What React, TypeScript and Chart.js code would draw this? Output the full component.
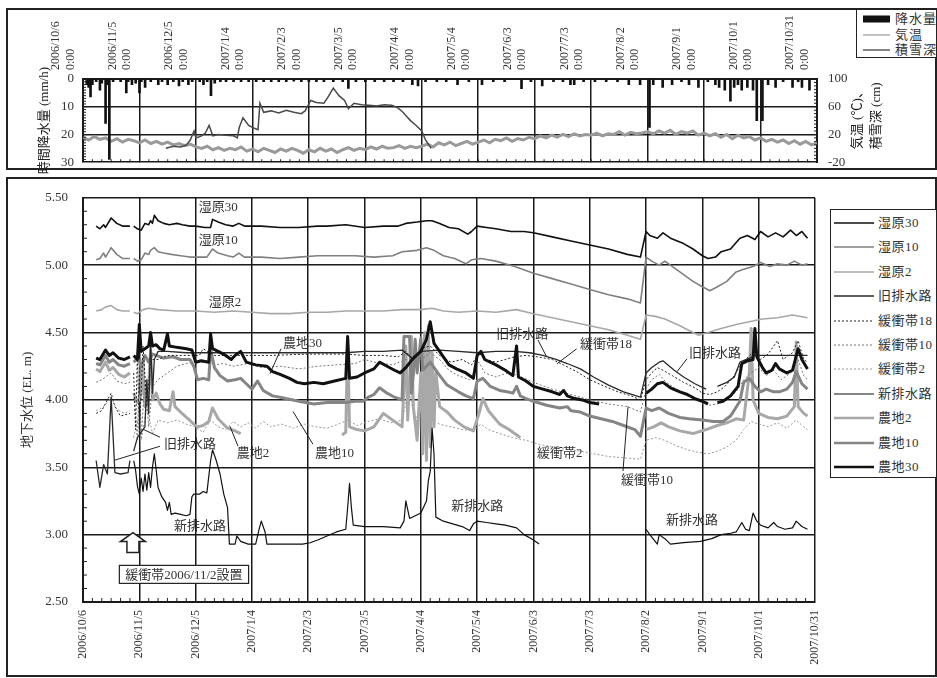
import React, { useEffect, useRef } from "react";
import { Chart, registerables } from "chart.js";
Chart.register(...registerables);

// ---------- tick labels (x = days since 2006/10/6) ----------
const dateLabels = [
  "2006/10/6", "2006/11/5", "2006/12/5", "2007/1/4", "2007/2/3", "2007/3/5", "2007/4/4",
  "2007/5/4", "2007/6/3", "2007/7/3", "2007/8/2", "2007/9/1", "2007/10/1", "2007/10/31",
];
const timeLabel = "0:00";

// ---------- top panel data ----------
// hourly precipitation peaks [day, mm/h]
const precipitation: [number, number][] = [
  [2, 2], [3, 3], [4, 6.5], [5, 2], [7, 1], [9, 4], [10, 1.5], [12, 16], [13, 2], [14, 29], [16, 1], [20, 1],
  [23, 5], [24, 1], [26, 2], [28, 1.5], [30, 5], [31, 1], [33, 3], [36, 1], [40, 2], [42, 1], [45, 2], [48, 1],
  [51, 2.5], [53, 1], [56, 2], [58, 1], [62, 1], [64, 2], [66, 1], [68, 6], [70, 1.5], [73, 1], [76, 1], [80, 1],
  [84, 1], [88, 1], [92, 1], [96, 1], [100, 1], [104, 1], [108, 1], [112, 0.8], [116, 1], [120, 1], [124, 1],
  [128, 1], [133, 1], [138, 1], [141, 3.4], [145, 1], [150, 1], [155, 1], [160, 1], [165, 1], [170, 1], [175, 2],
  [178, 2.5], [182, 1], [188, 1], [193, 1], [199, 2], [205, 1], [212, 2], [218, 1], [224, 1], [233, 3.5], [238, 1],
  [244, 2.5], [250, 1], [255, 1], [259, 2], [261, 2], [266, 1], [272, 1], [278, 1], [284, 1], [290, 2], [296, 2],
  [301, 17.5], [303, 2], [308, 3], [313, 2], [318, 1], [322, 2], [327, 3], [332, 1], [336, 2], [338, 3], [341, 4],
  [344, 8], [346, 3], [348, 2], [350, 4], [353, 3], [356, 4], [358, 15], [361, 15], [364, 2], [368, 3], [372, 1],
  [377, 3], [380, 1], [382, 3], [386, 4],
];
// air temperature (°C), one reading every 3 days from day 0
const tempStepDays = 3;
const temperature: number[] = [
  16, 12, 17, 13, 15, 10, 14, 9, 13, 11,
  8, 12, 7, 10, 6, 9, 5, 7, 4, 6,
  2, 0, 3, -2, 1, -3, 0, -2, 2, -4,
  -1, -5, 0, -3, -6, -1, -4, 0, -3, -7,
  -2, -5, 0, -4, -1, -6, -2, 1, -3, 0,
  -2, 2, -1, 3, 0, 1, 4, 0, 3, 1,
  3, 6, 2, 8, 5, 9, 4, 7, 10, 6,
  9, 12, 8, 13, 11, 15, 10, 14, 12, 16,
  14, 18, 15, 19, 16, 20, 17, 21, 18, 20,
  19, 22, 18, 21, 20, 24, 19, 23, 21, 22,
  24, 21, 25, 22, 26, 20, 24, 22, 25, 19,
  22, 18, 21, 16, 20, 14, 19, 15, 17, 12,
  15, 10, 13, 9, 12, 7, 11, 6, 10, 5,
  8,
];
// snow depth (cm) [day, cm]
const snowDepth: [number, number][] = [
  [44, 0], [48, 3], [52, 2], [55, 5], [57, 12], [59, 25], [60, 15], [63, 18], [65, 22], [67, 33], [69, 18], [72, 20],
  [76, 19], [80, 18], [82, 15], [83, 30], [85, 44], [88, 33], [91, 29], [93, 27], [94, 65], [96, 52], [100, 54],
  [104, 51], [108, 55], [112, 52], [116, 50], [118, 54], [121, 69], [124, 66], [128, 65], [130, 73], [133, 87],
  [136, 76], [139, 69], [141, 57], [144, 65], [148, 63], [152, 62], [156, 61], [160, 63], [164, 62], [167, 59],
  [170, 52], [172, 46], [174, 40], [177, 33], [180, 25], [182, 12], [184, 4], [185, 0],
];

// ---------- bottom panel data: groundwater level (EL. m), [day, value|null] ----------
type Pt = [number, number | null];
const shitsugen30: Pt[] = [
  [7, 5.29], [9, 5.27], [11, 5.30], [12, 5.28], [15, 5.35], [18, 5.31], [21, 5.29], [25, 5.29], [26, null],
  [27, 5.29], [29, 5.27], [31, 5.26], [33, 5.31], [35, 5.30], [36, 5.33], [37, 5.31], [38, 5.37], [40, 5.33],
  [43, 5.31], [46, 5.30], [50, 5.31], [53, 5.30], [57, 5.29], [60, 5.29], [65, 5.28], [68, 5.28], [69, 5.34],
  [72, 5.32], [76, 5.30], [80, 5.29], [83, 5.31], [86, 5.29], [95, 5.29], [105, 5.28], [115, 5.28], [125, 5.29],
  [130, 5.29], [140, 5.30], [150, 5.28], [160, 5.29], [168, 5.29], [172, 5.31], [178, 5.32], [183, 5.33],
  [186, 5.33], [190, 5.31], [195, 5.28], [200, 5.27], [205, 5.23], [207, 5.25], [210, 5.29], [215, 5.28],
  [220, 5.27], [228, 5.25], [235, 5.25], [240, 5.24], [250, 5.21], [260, 5.18], [270, 5.15], [280, 5.12],
  [290, 5.08], [297, 5.06], [300, 5.25], [302, 5.22], [306, 5.20], [309, 5.24], [313, 5.20], [320, 5.16],
  [325, 5.12], [330, 5.07], [333, 5.05], [337, 5.06], [340, 5.10], [345, 5.12], [350, 5.20], [354, 5.22],
  [358, 5.19], [361, 5.25], [365, 5.21], [369, 5.24], [373, 5.21], [377, 5.26], [380, 5.22], [383, 5.25], [386, 5.20],
];
const shitsugen10: Pt[] = [
  [7, 5.04], [9, 5.05], [11, 5.09], [12, 5.06], [15, 5.13], [18, 5.08], [21, 5.05], [25, 5.05], [26, null],
  [27, 5.05], [29, 5.03], [31, 5.04], [33, 5.09], [35, 5.08], [36, 5.11], [38, 5.13], [40, 5.10], [43, 5.09],
  [47, 5.08], [52, 5.07], [57, 5.06], [60, 5.06], [66, 5.06], [69, 5.12], [72, 5.09], [77, 5.07], [80, 5.06],
  [83, 5.09], [86, 5.06], [95, 5.06], [105, 5.05], [115, 5.06], [125, 5.07], [135, 5.07], [145, 5.07],
  [155, 5.06], [165, 5.07], [170, 5.10], [178, 5.11], [183, 5.13], [187, 5.11], [192, 5.07], [198, 5.05],
  [204, 5.01], [207, 5.04], [212, 5.05], [220, 5.03], [230, 4.99], [240, 4.94], [250, 4.90], [260, 4.86],
  [270, 4.82], [280, 4.78], [290, 4.75], [297, 4.72], [300, 5.06], [303, 5.03], [307, 5.00], [310, 5.03],
  [315, 4.98], [320, 4.93], [325, 4.88], [330, 4.84], [334, 4.81], [338, 4.84], [343, 4.88], [348, 4.95],
  [352, 4.97], [357, 4.99], [361, 5.02], [366, 4.99], [370, 5.01], [375, 5.00], [379, 5.03], [383, 5.00], [386, 5.01],
];
const shitsugen2: Pt[] = [
  [7, 4.66], [10, 4.67], [12, 4.69], [15, 4.70], [18, 4.67], [21, 4.66], [25, 4.66], [26, null], [27, 4.65],
  [29, 4.64], [32, 4.67], [35, 4.68], [40, 4.67], [50, 4.66], [60, 4.66], [70, 4.65], [80, 4.66], [90, 4.65],
  [100, 4.64], [110, 4.64], [120, 4.65], [130, 4.65], [140, 4.66], [150, 4.66], [160, 4.66], [170, 4.67],
  [180, 4.67], [186, 4.68], [192, 4.66], [200, 4.65], [210, 4.66], [220, 4.65], [231, 4.67], [240, 4.64],
  [250, 4.61], [260, 4.58], [270, 4.55], [280, 4.52], [290, 4.48], [297, 4.45], [300, 4.63], [305, 4.62],
  [310, 4.60], [318, 4.55], [325, 4.50], [328, 4.48], [333, 4.50], [340, 4.53], [348, 4.56], [355, 4.58],
  [362, 4.60], [370, 4.61], [378, 4.63], [386, 4.61],
];
const kyuHaisuiro: Pt[] = [
  [7, 3.55], [9, 3.35], [11, 3.52], [13, 3.45], [15, 4.02], [17, 3.46], [20, 3.45], [24, 3.46], [25, 3.55],
  [26, null], [27, 3.62], [29, 3.72], [31, 3.76], [33, 3.80], [34, 4.15], [35, 3.90], [36, 4.45], [37, 4.05],
  [38, 4.30], [40, 4.36], [45, 4.36], [55, 4.35], [65, 4.35], [80, 4.35], [100, 4.35], [120, 4.35], [140, 4.35],
  [150, 4.36], [160, 4.36], [170, 4.37], [176, 4.30], [180, 4.36], [190, 4.37], [200, 4.36], [210, 4.35],
  [220, 4.36], [230, 4.36], [238, 4.35], [245, 4.33], [252, 4.30], [258, 4.27], [265, 4.23], [272, 4.17],
  [280, 4.11], [288, 4.06], [297, 4.02], [300, 4.20], [303, 4.24], [307, 4.28], [309, 4.29], [315, 4.22],
  [320, 4.17], [326, 4.12], [332, 4.08], [334, null], [338, 4.10], [343, 4.13], [347, 4.17], [350, 4.28],
  [355, 4.31], [358, 4.33], [365, 4.33], [375, 4.33], [386, 4.33],
];
const kanshotai18: Pt[] = [
  [7, 3.90], [10, 3.92], [13, 4.00], [15, 4.05], [17, 3.95], [20, 3.88], [25, 3.90], [26, null], [27, 4.20],
  [28, 3.78], [29, 4.35], [30, 3.75], [32, 4.40], [34, 3.95], [36, 4.30], [40, 4.30], [45, 4.33], [55, 4.33],
  [62, 4.33], [64, 4.38], [70, 4.33], [80, 4.33], [100, 4.33], [120, 4.34], [140, 4.34], [150, 4.33],
  [160, 4.33], [168, 4.32], [172, 4.36], [176, 4.30], [180, 4.38], [185, 4.40], [190, 4.33], [196, 4.28],
  [202, 4.30], [207, 4.26], [211, 4.35], [214, 4.30], [220, 4.28], [225, 4.30], [230, 4.32], [236, 4.33],
  [242, 4.32], [250, 4.30], [256, 4.26], [263, 4.21], [270, 4.15], [278, 4.10], [285, 4.06], [292, 4.03],
  [297, 4.00], [300, 4.15], [303, 4.20], [306, 4.24], [309, 4.22], [314, 4.18], [320, 4.13], [326, 4.09],
  [330, 4.05], [334, 4.04], [338, 4.06], [342, 4.10], [346, 4.16], [350, 4.25], [353, 4.30], [356, 4.34],
  [358, 4.38], [361, 4.30], [365, 4.34], [370, 4.44], [373, 4.30], [378, 4.35], [381, 4.44], [384, 4.30], [386, 4.28],
];
const kanshotai10: Pt[] = [
  [7, 4.13], [10, 4.15], [13, 4.18], [15, 4.20], [18, 4.14], [22, 4.12], [25, 4.13], [26, null], [27, 4.05],
  [29, 3.70], [30, 4.25], [31, 3.72], [33, 4.15], [35, 3.80], [37, 4.10], [40, 4.15], [45, 4.20], [50, 4.25],
  [55, 4.27], [60, 4.28], [66, 4.28], [70, 4.26], [75, 4.27], [80, 4.25], [88, 4.27], [95, 4.24], [105, 4.25],
  [115, 4.23], [125, 4.25], [135, 4.26], [145, 4.27], [150, 4.30], [155, 4.28], [165, 4.26], [172, 4.30],
  [178, 4.28], [185, 4.35], [190, 4.30], [195, 4.22], [200, 4.18], [206, 4.15], [211, 4.28], [214, 4.20],
  [220, 4.17], [226, 4.20], [232, 4.18], [240, 4.13], [250, 4.08], [260, 4.04], [270, 4.00], [280, 3.97],
  [290, 3.95], [297, 3.91], [300, 4.08], [303, 4.15], [307, 4.19], [310, 4.14], [316, 4.08], [322, 4.03],
  [328, 3.99], [333, 3.96], [338, 3.97], [343, 4.00], [348, 4.06], [352, 4.15], [356, 4.20], [360, 4.24],
  [364, 4.18], [368, 4.22], [372, 4.15], [377, 4.20], [381, 4.30], [384, 4.18], [386, 4.15],
];
const kanshotai2: Pt[] = [
  [7, 3.92], [10, 3.94], [13, 3.98], [15, 4.02], [18, 3.93], [22, 3.90], [25, 3.92], [26, null], [27, 3.72],
  [29, 3.85], [31, 3.70], [34, 3.95], [37, 3.75], [40, 3.85], [45, 3.83], [50, 3.85], [55, 3.82], [60, 3.80],
  [64, 3.76], [68, 3.85], [72, 3.80], [76, 3.78], [80, 3.84], [84, 3.80], [88, 3.83], [92, 3.79], [96, 3.84],
  [100, 3.80], [106, 3.82], [112, 3.79], [118, 3.82], [124, 3.80], [130, 3.79], [136, 3.82], [141, 3.85],
  [146, 3.81], [152, 3.84], [158, 3.86], [164, 3.83], [170, 3.85], [174, 4.10], [177, 3.80], [182, 4.20],
  [186, 3.85], [190, 3.82], [196, 3.80], [202, 3.78], [208, 3.77], [212, 3.82], [216, 3.78], [222, 3.75],
  [229, 3.72], [236, 3.70], [243, 3.67], [250, 3.65], [258, 3.63], [265, 3.62], [272, 3.60], [280, 3.58],
  [288, 3.57], [297, 3.56], [300, 3.70], [305, 3.72], [310, 3.70], [316, 3.66], [322, 3.63], [328, 3.61],
  [333, 3.60], [338, 3.62], [343, 3.65], [348, 3.70], [352, 3.78], [356, 3.84], [360, 3.82], [365, 3.80],
  [370, 3.83], [375, 3.79], [380, 3.85], [384, 3.80], [386, 3.78],
];
const shinHaisuiro: Pt[] = [
  [27, 3.55], [28, 3.48], [29, 3.36], [30, 3.30], [31, 3.42], [32, 3.32], [33, 3.45], [34, 3.33], [35, 3.46],
  [36, 3.35], [37, 3.50], [38, 3.60], [39, 3.48], [40, 3.35], [42, 3.28], [44, 3.24], [45, 3.18], [46, 3.24],
  [47, 3.15], [49, 3.16], [52, 3.15], [55, 3.14], [57, 3.15], [58, 3.28], [59, 3.30], [62, 3.30], [64, 3.32],
  [66, 3.31], [68, 3.55], [69, 3.63], [71, 3.55], [73, 3.45], [75, 3.30], [77, 3.20], [78, 2.93], [81, 2.93],
  [82, 2.99], [84, 2.95], [88, 2.93], [92, 2.93], [94, 3.05], [95, 3.10], [97, 3.02], [98, 2.93], [110, 2.93],
  [117, 2.93], [121, 2.94], [125, 2.96], [130, 2.99], [135, 3.02], [140, 3.04], [141, 3.20], [142, 3.38],
  [143, 3.20], [144, 3.07], [150, 3.06], [160, 3.06], [169, 3.05], [171, 3.10], [172, 3.25], [174, 3.12],
  [177, 3.14], [180, 3.16], [183, 3.25], [184, 3.40], [185, 3.47], [186, 3.79], [187, 3.60], [188, 3.13],
  [192, 3.10], [197, 3.08], [202, 3.06], [206, 3.03], [208, 3.08], [210, 3.10], [215, 3.09], [220, 3.08],
  [225, 3.07], [231, 3.05], [235, 3.00], [240, 2.96], [243, 2.93], [244, null], [300, 3.04], [302, 3.00],
  [306, 2.93], [307, 3.00], [310, 2.97], [313, 2.93], [320, 2.94], [329, 2.95], [335, 2.97], [340, 3.00],
  [345, 3.01], [348, 3.02], [351, 3.09], [353, 3.04], [355, 3.03], [357, 3.16], [359, 3.10], [361, 3.07],
  [365, 3.05], [368, 3.09], [370, 3.06], [374, 3.04], [378, 3.05], [380, 3.10], [383, 3.06], [386, 3.04],
];
const nochi2: Pt[] = [
  [7, 4.23], [9, 4.21], [12, 4.28], [14, 4.22], [16, 4.24], [19, 4.19], [22, 4.17], [25, 4.20], [26, null],
  [27, 4.05], [29, 3.98], [31, 4.04], [32, 4.30], [33, 3.95], [35, 4.10], [36, 4.37], [37, 4.00], [39, 4.05],
  [41, 3.97], [43, 3.93], [46, 3.92], [48, 4.06], [49, 3.95], [52, 3.91], [56, 3.86], [59, 3.82], [61, 3.80],
  [64, 3.81], [67, 3.84], [69, 3.94], [72, 3.86], [77, 3.79], [81, 3.77], [84, 3.75], [85, null], [138, 3.74],
  [140, 3.76], [141, 4.45], [142, 3.80], [146, 3.78], [150, 3.77], [155, 3.80], [160, 3.90], [165, 3.85],
  [170, 3.80], [172, 4.40], [173, 3.85], [175, 4.47], [176, 3.95], [178, 3.70], [180, 4.20], [181, 3.60],
  [182, 4.50], [183, 3.55], [184, 4.55], [185, 3.65], [186, 4.35], [187, 3.80], [188, 4.20], [190, 3.95],
  [194, 3.91], [198, 3.85], [203, 3.80], [208, 3.77], [211, 3.90], [213, 4.01], [216, 3.92], [222, 3.82],
  [227, 3.78], [233, 3.72], [234, null], [300, 3.78], [304, 3.80], [308, 3.83], [312, 3.80], [318, 3.77],
  [325, 3.75], [332, 3.78], [338, 3.81], [343, 3.83], [348, 3.86], [352, 3.85], [355, 4.20], [356, 4.53],
  [357, 4.00], [360, 3.90], [365, 3.87], [370, 3.86], [375, 3.88], [379, 3.95], [380, 4.43], [381, 3.95],
  [384, 3.90], [386, 3.88],
];
const nochi10: Pt[] = [
  [7, 4.27], [9, 4.26], [12, 4.33], [14, 4.28], [16, 4.30], [19, 4.26], [22, 4.25], [25, 4.27], [26, null],
  [27, 4.28], [29, 4.31], [31, 4.25], [33, 4.33], [35, 4.28], [37, 4.34], [39, 4.33], [43, 4.31], [48, 4.32],
  [52, 4.30], [57, 4.30], [59, 4.25], [61, 4.15], [64, 4.16], [67, 4.15], [68, 4.38], [70, 4.24], [73, 4.18],
  [77, 4.14], [81, 4.15], [84, 4.16], [87, 4.12], [90, 4.08], [93, 4.14], [96, 4.07], [101, 4.03], [105, 4.02],
  [108, 4.01], [115, 3.99], [123, 3.97], [130, 3.98], [136, 3.98], [140, 3.98], [145, 3.99], [149, 3.99],
  [152, 4.02], [155, 4.04], [158, 4.09], [162, 4.05], [166, 4.02], [170, 4.00], [171, 4.47], [174, 4.47],
  [175, 4.05], [176, 4.19], [177, 4.45], [178, 4.20], [180, 4.46], [181, 4.22], [185, 4.28], [189, 4.20],
  [194, 4.11], [200, 4.06], [204, 4.03], [208, 4.01], [210, 4.14], [213, 4.16], [217, 4.10], [222, 4.07],
  [226, 4.06], [229, 4.05], [231, 4.10], [233, 4.03], [236, 4.01], [240, 3.99], [247, 3.96], [254, 3.94],
  [258, 3.95], [260, 3.92], [265, 3.91], [270, 3.88], [276, 3.86], [282, 3.84], [288, 3.81], [294, 3.78],
  [297, 3.73], [300, 3.94], [303, 3.92], [307, 3.94], [312, 3.90], [318, 3.87], [323, 3.86], [330, 3.85],
  [336, 3.84], [341, 3.84], [345, 3.88], [350, 3.99], [352, 4.13], [355, 4.16], [358, 4.10], [361, 4.06],
  [364, 4.08], [368, 4.06], [371, 4.06], [375, 4.08], [378, 4.13], [380, 4.21], [383, 4.12], [386, 4.08],
];
const nochi30: Pt[] = [
  [7, 4.31], [9, 4.30], [12, 4.37], [14, 4.33], [16, 4.35], [19, 4.31], [22, 4.30], [25, 4.32], [26, null],
  [27, 4.33], [29, 4.30], [30, 4.56], [31, 4.36], [33, 4.38], [35, 4.40], [36, 4.50], [37, 4.40], [39, 4.41],
  [41, 4.38], [43, 4.37], [45, 4.49], [46, 4.40], [50, 4.39], [55, 4.38], [58, 4.37], [60, 4.28], [63, 4.29],
  [67, 4.28], [68, 4.49], [69, 4.38], [72, 4.36], [76, 4.33], [79, 4.30], [81, 4.33], [84, 4.36], [87, 4.28],
  [92, 4.26], [98, 4.25], [101, 4.21], [105, 4.19], [110, 4.16], [114, 4.13], [118, 4.12], [123, 4.13],
  [128, 4.12], [134, 4.14], [140, 4.16], [141, 4.47], [142, 4.16], [146, 4.17], [150, 4.20], [155, 4.23],
  [158, 4.28], [162, 4.25], [166, 4.22], [169, 4.20], [172, 4.24], [176, 4.31], [180, 4.36], [183, 4.45],
  [185, 4.58], [187, 4.42], [189, 4.38], [192, 4.32], [195, 4.26], [199, 4.23], [204, 4.20], [208, 4.16],
  [210, 4.33], [212, 4.36], [214, 4.30], [217, 4.28], [220, 4.26], [225, 4.22], [229, 4.18], [231, 4.40],
  [232, 4.17], [236, 4.14], [240, 4.10], [245, 4.08], [250, 4.06], [254, 4.04], [256, 4.07], [258, 4.03],
  [262, 4.01], [266, 4.00], [270, 3.98], [275, 3.97], [276, null], [300, 4.05], [303, 4.08], [306, 4.12],
  [309, 4.13], [313, 4.09], [318, 4.06], [322, 4.04], [326, 4.01], [330, 3.99], [333, 3.97], [335, null],
  [338, 3.98], [341, 3.99], [345, 4.03], [349, 4.10], [351, 4.27], [354, 4.29], [357, 4.30], [358, 4.53],
  [359, 4.32], [362, 4.24], [364, 4.20], [367, 4.22], [369, 4.27], [371, 4.23], [375, 4.20], [378, 4.22],
  [381, 4.38], [383, 4.30], [386, 4.23],
];

// annotations in data coordinates [text, day, level]
const noteLabels: [string, number, number][] = [
  ["湿原30", 72, 5.426], ["湿原10", 72, 5.183], ["湿原2", 75.6, 4.726], ["農地30", 117, 4.416],
  ["旧排水路", 234, 4.482], ["緩衝帯18", 278.6, 4.409], ["旧排水路", 336.7, 4.342], ["旧排水路", 57, 3.671],
  ["農地2", 90.6, 3.605], ["農地10", 134, 3.605], ["新排水路", 62.3, 3.059], ["新排水路", 210, 3.207],
  ["新排水路", 324.5, 3.103], ["緩衝帯2", 254, 3.605], ["緩衝帯10", 300.5, 3.398],
];
const noteLeaders: [number, number, number, number][] = [
  [105.5, 4.379, 99.6, 4.195], [242.4, 4.445, 247, 4.32], [263, 4.379, 252.5, 4.268],
  [321.8, 4.305, 316.5, 4.21], [41, 3.723, 32, 3.782], [41, 3.656, 17, 3.553],
  [82.6, 3.656, 78.3, 3.804], [122.5, 3.671, 111.9, 3.914], [287.7, 3.472, 290.4, 3.951],
];
const installArrow: [number, number] = [26.6, 3.015];
const installNote: [string, number, number] = ["緩衝帯2006/11/2設置", 53.8, 2.705];

const SERIF = '"Liberation Serif", "Noto Sans CJK JP", serif';
const CJK = '"Liberation Serif", "Noto Sans CJK JP", sans-serif';
const INK = "#222";

const toXY = (arr: Pt[]) => arr.map(([x, y]) => ({ x, y }));

type SeriesStyle = { label: string; data: Pt[]; color: string; width: number; dash: number[]; order: number };
const bottomSeries: SeriesStyle[] = [
  { label: "湿原30", data: shitsugen30, color: "#111", width: 1.6, dash: [], order: 4 },
  { label: "湿原10", data: shitsugen10, color: "#808080", width: 1.6, dash: [], order: 7 },
  { label: "湿原2", data: shitsugen2, color: "#a8a8a8", width: 1.6, dash: [], order: 10 },
  { label: "旧排水路", data: kyuHaisuiro, color: "#2a2a2a", width: 1.3, dash: [], order: 3 },
  { label: "緩衝帯18", data: kanshotai18, color: "#222", width: 1, dash: [2, 2], order: 5 },
  { label: "緩衝帯10", data: kanshotai10, color: "#777", width: 1, dash: [2, 2], order: 8 },
  { label: "緩衝帯2", data: kanshotai2, color: "#999", width: 1, dash: [2, 2], order: 11 },
  { label: "新排水路", data: shinHaisuiro, color: "#111", width: 1.2, dash: [], order: 2 },
  { label: "農地2", data: nochi2, color: "#a8a8a8", width: 3, dash: [], order: 9 },
  { label: "農地10", data: nochi10, color: "#858585", width: 3, dash: [], order: 6 },
  { label: "農地30", data: nochi30, color: "#111", width: 3, dash: [], order: 1 },
];

const topPlugin = {
  id: "topDecor",
  afterDraw(chart: any) {
    const { ctx, chartArea: a, scales } = chart;
    const yL = scales.yL, yR = scales.yR, x = scales.x;
    ctx.save();
    ctx.strokeStyle = INK;
    ctx.lineWidth = 1;
    ctx.beginPath();
    for (let v = 1; v < 30; v++) {
      const p = yL.getPixelForValue(v);
      ctx.moveTo(a.left, p); ctx.lineTo(a.left + 3, p);
    }
    for (let v = -15; v < 100; v += 5) {
      const p = yR.getPixelForValue(v);
      ctx.moveTo(a.right, p); ctx.lineTo(a.right - 3, p);
    }
    for (let d = 5; d < 390; d += 5) {
      const p = x.getPixelForValue(d);
      ctx.moveTo(p, a.bottom); ctx.lineTo(p, a.bottom - 3);
    }
    ctx.stroke();
    ctx.fillStyle = INK;
    ctx.font = `13px ${CJK}`;
    ctx.textBaseline = "middle";
    ctx.translate(45, (a.top + a.bottom) / 2);
    ctx.rotate(-Math.PI / 2);
    ctx.textAlign = "center";
    ctx.fillText("時間降水量 (mm/h)", 0, 0);
    ctx.restore();
    ctx.save();
    ctx.fillStyle = INK;
    ctx.font = `13px ${CJK}`;
    ctx.textBaseline = "middle";
    ctx.textAlign = "left";
    ctx.translate(858, a.bottom - 13);
    ctx.rotate(-Math.PI / 2);
    ctx.fillText("気温 (℃)、", 0, 0);
    ctx.fillText("積雪深 (cm)", 0, 19);
    ctx.restore();
  },
};

const bottomPlugin = {
  id: "bottomDecor",
  afterDraw(chart: any) {
    const { ctx, chartArea: a, scales } = chart;
    const x = scales.x, y = scales.y;
    const px = (d: number) => x.getPixelForValue(d);
    const py = (v: number) => y.getPixelForValue(v);
    ctx.save();
    ctx.strokeStyle = INK;
    ctx.lineWidth = 1;
    ctx.beginPath();
    for (let d = 5; d < 390; d += 5) {
      if (d % 30 === 0) continue;
      ctx.moveTo(px(d), a.bottom); ctx.lineTo(px(d), a.bottom - 4);
    }
    for (let k = 26; k < 55; k++) {
      if (k % 5 === 0) continue;
      const p = py(k / 10);
      ctx.moveTo(a.left, p); ctx.lineTo(a.left + 4, p);
    }
    ctx.stroke();
    // leader lines
    ctx.beginPath();
    noteLeaders.forEach(([d1, v1, d2, v2]) => {
      ctx.moveTo(px(d1), py(v1)); ctx.lineTo(px(d2), py(v2));
    });
    ctx.stroke();
    // labels
    ctx.fillStyle = "#333";
    ctx.font = `13px ${CJK}`;
    ctx.textAlign = "center";
    ctx.textBaseline = "middle";
    noteLabels.forEach(([t, d, v]) => ctx.fillText(t, px(d), py(v)));
    // hollow arrow
    const tx = px(installArrow[0]), ty = py(installArrow[1]);
    ctx.beginPath();
    ctx.moveTo(tx, ty);
    ctx.lineTo(tx + 12.5, ty + 9);
    ctx.lineTo(tx + 6, ty + 9);
    ctx.lineTo(tx + 6, ty + 20);
    ctx.lineTo(tx - 6, ty + 20);
    ctx.lineTo(tx - 6, ty + 9);
    ctx.lineTo(tx - 12.5, ty + 9);
    ctx.closePath();
    ctx.fillStyle = "#fff";
    ctx.fill();
    ctx.lineWidth = 1.5;
    ctx.stroke();
    // install note box
    const [nt, nd, nv] = installNote;
    const cx = px(nd), cy = py(nv);
    const w = ctx.measureText(nt).width + 12;
    ctx.fillStyle = "#fff";
    ctx.fillRect(cx - w / 2, cy - 9, w, 18);
    ctx.lineWidth = 1.2;
    ctx.strokeRect(cx - w / 2, cy - 9, w, 18);
    ctx.fillStyle = "#333";
    ctx.fillText(nt, cx, cy + 1);
    // axis title
    ctx.translate(28, (a.top + a.bottom) / 2);
    ctx.rotate(-Math.PI / 2);
    ctx.fillText("地下水位 (EL. m)", 0, 0);
    ctx.restore();
  },
};

const legendTop = [
  { label: "降水量", kind: "bar", color: "#111", width: 7 },
  { label: "気温", kind: "line", color: "#999", width: 1.2 },
  { label: "積雪深", kind: "line", color: "#333", width: 1.2 },
];

export default function App() {
  const topRef = useRef<HTMLCanvasElement>(null);
  const botRef = useRef<HTMLCanvasElement>(null);

  useEffect(() => {
    document.body.style.margin = "0";
    const gridStyle = { color: "#1a1a1a", lineWidth: 1.5, drawTicks: false };
    const borderStyle = { color: "#1a1a1a", width: 2 };
    const tickFont = { family: SERIF, size: 13 };

    const topChart = new Chart(topRef.current as HTMLCanvasElement, {
      type: "line",
      data: {
        datasets: [
          {
            type: "bar",
            label: "降水量",
            data: precipitation.map(([x, y]) => ({ x, y })),
            yAxisID: "yL",
            backgroundColor: "#111",
            barThickness: 2,
            order: 1,
          } as any,
          {
            type: "line",
            label: "気温",
            data: temperature.map((v, i) => ({ x: i * tempStepDays, y: v })),
            yAxisID: "yR",
            borderColor: "#9a9a9a",
            borderWidth: 3,
            pointRadius: 0,
            order: 3,
          },
          {
            type: "line",
            label: "積雪深",
            data: snowDepth.map(([x, y]) => ({ x, y })),
            yAxisID: "yR",
            borderColor: "#4a4a4a",
            borderWidth: 1.5,
            pointRadius: 0,
            order: 2,
          },
        ],
      },
      options: {
        responsive: false,
        animation: false,
        layout: { padding: { left: 0, right: 0, top: 0, bottom: 0 } },
        plugins: { legend: { display: false }, tooltip: { enabled: false } },
        scales: {
          x: {
            type: "linear",
            position: "top",
            min: 0,
            max: 390,
            offset: false,
            ticks: {
              stepSize: 30,
              autoSkip: false,
              minRotation: 90,
              maxRotation: 90,
              padding: 9,
              labelOffset: 2,
              color: "#333",
              font: { family: SERIF, size: 12 },
              callback: (v: any) => [dateLabels[Math.round(Number(v) / 30)], timeLabel],
            },
            grid: { ...gridStyle, offset: false },
            border: borderStyle,
            afterFit: (s: any) => { s.height = 79; },
          } as any,
          yL: {
            type: "linear",
            position: "left",
            min: 0,
            max: 30,
            reverse: true,
            ticks: { stepSize: 5, padding: 9, color: "#333", font: tickFont },
            grid: gridStyle,
            border: borderStyle,
            afterFit: (s: any) => { s.width = 83; },
          } as any,
          yR: {
            type: "linear",
            position: "right",
            min: -20,
            max: 100,
            ticks: { stepSize: 20, padding: 11, color: "#333", font: tickFont },
            grid: { display: false, drawTicks: false },
            border: borderStyle,
            afterFit: (s: any) => { s.width = 120; },
          } as any,
        },
      },
      plugins: [topPlugin],
    });

    const botChart = new Chart(botRef.current as HTMLCanvasElement, {
      type: "line",
      data: {
        datasets: bottomSeries.map((s) => ({
          label: s.label,
          data: toXY(s.data),
          borderColor: s.color,
          borderWidth: s.width,
          borderDash: s.dash,
          pointRadius: 0,
          spanGaps: false,
          order: s.order,
          borderJoinStyle: "round" as const,
        })),
      },
      options: {
        responsive: false,
        animation: false,
        layout: { padding: { left: 0, right: 122, top: 20, bottom: 0 } },
        plugins: { legend: { display: false }, tooltip: { enabled: false } },
        scales: {
          x: {
            type: "linear",
            position: "bottom",
            min: 0,
            max: 390,
            ticks: {
              stepSize: 30,
              autoSkip: false,
              minRotation: 90,
              maxRotation: 90,
              padding: 8,
              color: "#333",
              font: { family: SERIF, size: 12 },
              callback: (v: any) => dateLabels[Math.round(Number(v) / 30)],
            },
            grid: gridStyle,
            border: borderStyle,
            afterFit: (s: any) => { s.height = 76; },
          } as any,
          y: {
            type: "linear",
            min: 2.5,
            max: 5.5,
            ticks: {
              stepSize: 0.5,
              padding: 15,
              color: "#333",
              font: tickFont,
              callback: (v: any) => Number(v).toFixed(2),
            },
            grid: gridStyle,
            border: borderStyle,
            afterFit: (s: any) => { s.width = 83; },
          } as any,
        },
      },
      plugins: [bottomPlugin],
    });

    return () => {
      topChart.destroy();
      botChart.destroy();
    };
  }, []);

  const panel = (top: number, height: number): React.CSSProperties => ({
    position: "absolute",
    left: 6,
    top,
    width: 931,
    height,
    border: "2px solid #222",
    boxSizing: "border-box",
    pointerEvents: "none",
  });
  const legendText: React.CSSProperties = {
    position: "absolute",
    fontFamily: CJK,
    fontSize: 13,
    color: "#333",
    lineHeight: "16px",
    whiteSpace: "nowrap",
  };

  return (
    <div style={{ position: "relative", width: 937, height: 678, overflow: "hidden", background: "#fff" }}>
      <canvas ref={topRef} width={937} height={181} style={{ position: "absolute", left: 0, top: 0 }} />
      <canvas ref={botRef} width={937} height={503} style={{ position: "absolute", left: 0, top: 175 }} />
      <div style={panel(8, 162)} />
      <div style={panel(177, 500)} />
      {/* top legend */}
      <div style={{ position: "absolute", left: 856, top: 9, width: 81, height: 49, border: "1.5px solid #222", boxSizing: "border-box", background: "#fff" }}>
        {legendTop.map((it, i) => (
          <div key={i}>
            <svg style={{ position: "absolute", left: 6, top: 4 + i * 15.5 }} width={28} height={10}>
              {it.kind === "bar" ? (
                <rect x={0} y={1.5} width={27} height={it.width} fill={it.color} />
              ) : (
                <line x1={0} x2={27} y1={5} y2={5} stroke={it.color} strokeWidth={it.width} />
              )}
            </svg>
            <span style={{ ...legendText, left: 38, top: 1 + i * 15.5, letterSpacing: 1 }}>{it.label}</span>
          </div>
        ))}
      </div>
      {/* bottom legend */}
      <div style={{ position: "absolute", left: 830, top: 209, width: 107, height: 269, border: "1.5px solid #222", boxSizing: "border-box", background: "#fff" }}>
        {bottomSeries.map((s, i) => (
          <div key={i}>
            <svg style={{ position: "absolute", left: 2, top: 8 + i * 24.4 }} width={42} height={10}>
              <line x1={1} x2={41} y1={5} y2={5} stroke={s.color} strokeWidth={Math.min(s.width, 2.5)} strokeDasharray={s.dash.length ? "2 2" : undefined} />
            </svg>
            <span style={{ ...legendText, left: 47, top: 5 + i * 24.4, letterSpacing: 0.5 }}>{s.label}</span>
          </div>
        ))}
      </div>
    </div>
  );
}
